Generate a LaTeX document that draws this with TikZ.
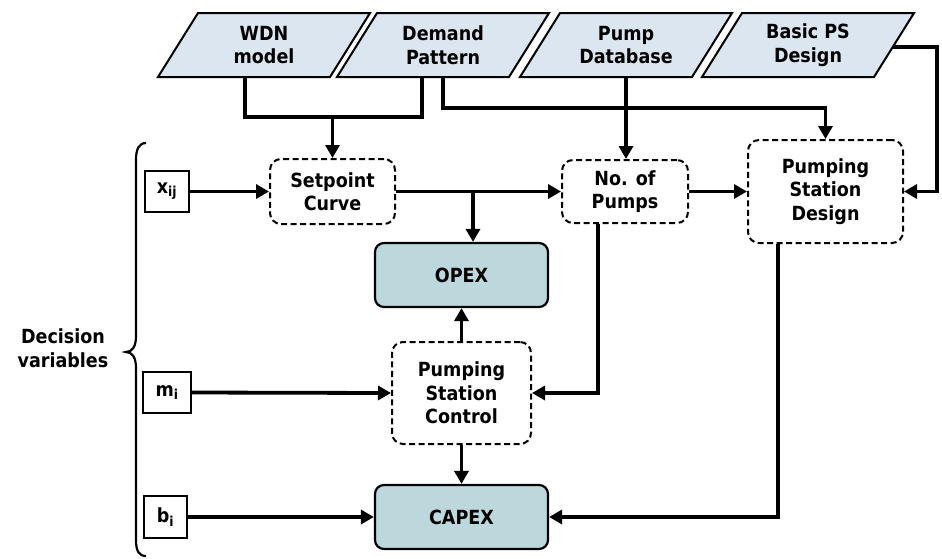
\documentclass[tikz,border=0pt]{standalone}
\usepackage{fontspec}
\setmainfont{DejaVu Sans Condensed}
\usetikzlibrary{arrows.meta,calc}
\definecolor{parafill}{HTML}{DCE6F1}
\definecolor{costfill}{HTML}{BCD8DC}
\tikzset{
  lbl/.style={font=\bfseries\fontsize{19.5}{23.5}\selectfont, align=center, text=black},
  parastyle/.style={draw=black, line width=2pt, fill=parafill, line join=miter},
  paratext/.style={lbl, minimum height=64pt, inner sep=0pt},
  procbox/.style={lbl, draw=black, line width=2pt, dash pattern=on 6pt off 3.5pt, rounded corners=11pt, fill=white, inner sep=0pt},
  costbox/.style={lbl, draw=black, line width=2.2pt, rounded corners=9pt, fill=costfill, inner sep=0pt, minimum width=173pt, minimum height=64pt},
  varbox/.style={lbl, draw=black, line width=2pt, inner sep=0pt, minimum height=41pt},
  conn/.style={line width=3.8pt, line join=miter},
  arr/.style={conn, -{Triangle[length=13pt,width=14pt]}},
  bracestyle/.style={line width=2.2pt}
}
\newcommand\mkpara[3]{%
  \draw[parastyle] (#2-106,77) -- (#2+66,77) -- (#2+106,13) -- (#2-66,13) -- cycle;
  \node[paratext] (#1) at (#2,45) {#3};}
\begin{document}
\begin{tikzpicture}[x=1pt,y=-1pt]
\useasboundingbox (0,0) rectangle (942,558);

% input parallelograms
\mkpara{wdn}{264}{WDN\\model}
\mkpara{dmd}{443}{Demand\\Pattern}
\mkpara{pdb}{626}{Pump\\Database}
\mkpara{bps}{808}{Basic PS\\Design}

% process boxes
\node[procbox, minimum width=125pt, minimum height=65pt] (set) at (332.5,191.5) {Setpoint\\Curve};
\node[procbox, minimum width=126pt, minimum height=63pt] (nop) at (625,191.5) {No. of\\Pumps};
\node[procbox, minimum width=155pt, minimum height=103pt] (psd) at (825.5,191.5) {Pumping\\Station\\Design};
\node[procbox, minimum width=139pt, minimum height=102pt] (psc) at (461.5,393) {Pumping\\Station\\Control};

% cost boxes
\node[costbox] (opex) at (461.5,275) {OPEX};
\node[costbox] (capex) at (461.5,517) {CAPEX};

% decision variables
\node[varbox, minimum width=44pt] (xij) at (167,191.5) {x\textsubscript{ij}};
\node[varbox, minimum width=48pt] (mi) at (167,392.5) {m\textsubscript{i}};
\node[varbox, minimum width=43pt, minimum height=42pt] (bi) at (165.5,517) {b\textsubscript{i}};

\node[lbl] (dv) at (63,348) {Decision\\variables};
\draw[bracestyle] (146,143) .. controls (139,143) and (136,149) .. (136,160)
  -- (136,336) .. controls (136,347) and (132,352) .. (126,352)
  .. controls (132,352) and (136,357) .. (136,368)
  -- (136,540) .. controls (136,551) and (139,556) .. (146,556);

% connectors from inputs
\coordinate (j1) at (set.north |- 0,117);
\draw[conn] ([xshift=-19pt]wdn.south) |- (j1) -| ([xshift=-21pt]dmd.south);
\draw[arr] (j1) -- (set.north);
\coordinate (j3) at (psd.north |- 0,108);
\draw[arr] (dmd.south) |- (j3) -- (psd.north);
\draw[arr] (pdb.south) -- (pdb.south |- nop.north);
\coordinate (bpsout) at (892.5,47);
\coordinate (bpsturn) at (937,47);
\draw[arr] (bpsout) -- (bpsturn) |- (psd.east);

% main flow
\draw[arr] (xij.east) -- (set.west);
\draw[arr] (set.east) -- (nop.west);
\coordinate (j2) at (473,191.5);
\draw[arr] (j2) -- (j2 |- opex.north);
\draw[arr] (nop.east) -- (psd.west);
\draw[arr] ([xshift=-27pt]nop.south) |- (psc.east);
\draw[arr] ([xshift=-47.5pt]psd.south) |- (capex.east);
\draw[arr] (psc.north) -- (opex.south);
\draw[arr] (psc.south) -- (capex.north);
\draw[arr] (mi.east) -- (psc.west);
\draw[arr] (bi.east) -- (capex.west);
\end{tikzpicture}
\end{document}
